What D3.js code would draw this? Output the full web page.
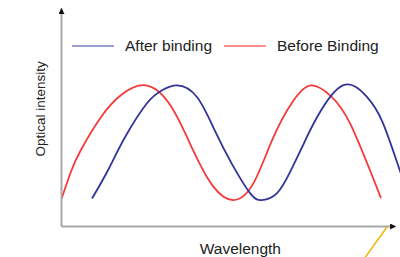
<!DOCTYPE html>
<html>
<head>
<meta charset="utf-8">
<script src="https://cdn.jsdelivr.net/npm/d3@7"></script>
<style>
  html, body { margin: 0; padding: 0; background: #fff; overflow: hidden; }
  svg { display: block; }
  text { font-family: "Liberation Sans", Arial, sans-serif; fill: #222; }
</style>
</head>
<body>
<div id="chart"></div>
<script>
// schematic spectrum, arbitrary units (0..100 on both axes)
const seriesNames = ["After binding", "Before Binding"];

const beforeX = [0.2, 3.0, 6.0, 12.0, 18.0, 25.4, 32.9, 39.5, 45.5, 51.5, 57.5, 63.5,
                 69.5, 74.9, 80.8, 86.8, 95.8];
const beforeY = [12.6, 25.0, 35.0, 50.0, 60.1, 64.5, 55.0, 34.9, 18.3, 11.9, 19.3, 40.4,
                 57.3, 64.5, 59.6, 46.3, 12.8];

const afterX = [9.3, 14.1, 19.2, 25.8, 30.2, 34.7, 40.7, 46.1, 51.2, 56.6, 60.2,
                64.7, 68.6, 72.5, 76.7, 84.4, 91.6, 96.4, 101.2, 103.6];
const afterY = [12.6, 25.7, 40.8, 56.4, 62.2, 64.5, 59.2, 43.6, 28.4, 15.1, 11.9,
                15.1, 24.8, 37.2, 50.0, 64.5, 59.2, 47.2, 26.6, 16.5];

const colors = {"After binding": "#33339a", "Before Binding": "#f53a3a"};
const legendColors = {"After binding": "#7c7cc2", "Before Binding": "#ff6a6a"};

const W = 400, H = 257;
const margin = {top: 8, right: 5, bottom: 31, left: 61};
const width = W - margin.left - margin.right;
const height = H - margin.top - margin.bottom;

const svg = d3.select("#chart").append("svg")
    .attr("width", W)
    .attr("height", H);

const defs = svg.append("defs");
defs.append("marker")
    .attr("id", "arrow")
    .attr("viewBox", "0 0 10 10")
    .attr("refX", 9).attr("refY", 5)
    .attr("markerWidth", 3).attr("markerHeight", 3)
    .attr("orient", "auto")
  .append("path")
    .attr("d", "M0,0L10,5L0,10Z")
    .attr("fill", "#111");

const g = svg.append("g")
    .attr("transform", "translate(" + margin.left + "," + margin.top + ")");

const xScale = d3.scaleLinear().domain([0, 100]).range([0, width]);
const yScale = d3.scaleLinear().domain([0, 100]).range([height, 0]);

// curves
const line = d3.line()
    .x(d => xScale(d[0]))
    .y(d => yScale(d[1]))
    .curve(d3.curveNatural);

const series = [
    {name: "Before Binding", pts: d3.zip(beforeX, beforeY)},
    {name: "After binding", pts: d3.zip(afterX, afterY)}
];

g.selectAll(".curve")
    .data(series)
    .enter()
    .append("path")
    .attr("class", "curve")
    .attr("d", d => line(d.pts))
    .attr("fill", "none")
    .attr("stroke", d => colors[d.name])
    .attr("stroke-width", 1.8);

// axes: plain lines, no ticks, arrow at the end
const xAxis = g.append("g")
    .attr("transform", "translate(0," + height + ")")
    .call(d3.axisBottom(xScale).ticks(0).tickSizeOuter(0));
const yAxis = g.append("g")
    .call(d3.axisLeft(yScale).ticks(0).tickSizeOuter(0));

[xAxis, yAxis].forEach(a => {
    a.select(".domain")
        .attr("stroke", "#a8a8a8")
        .attr("stroke-width", 2)
        .attr("marker-end", "url(#arrow)");
});

// legend
const legend = g.selectAll(".legend")
    .data(seriesNames)
    .enter()
    .append("g")
    .attr("class", "legend")
    .attr("transform", (d, i) => "translate(" + [11, 163][i] + ",38)");

legend.append("line")
    .attr("x1", 0).attr("x2", 42)
    .attr("y1", 0).attr("y2", 0)
    .attr("stroke", d => legendColors[d])
    .attr("stroke-width", 1.5);

legend.append("text")
    .attr("x", 53)
    .attr("y", 5)
    .style("font-size", "15.5px")
    .text(d => d);

// axis titles
svg.append("text")
    .attr("x", margin.left + xScale(53.7))
    .attr("y", 254)
    .attr("text-anchor", "middle")
    .style("font-size", "15.5px")
    .text("Wavelength");

svg.append("text")
    .attr("transform", "translate(45," + (margin.top + yScale(53.7)) + ") rotate(-90)")
    .attr("text-anchor", "middle")
    .style("font-size", "13.5px")
    .text("Optical intensity");

// stray orange pointer stroke at the corner
svg.append("line")
    .attr("x1", margin.left + xScale(100) - 8)
    .attr("y1", margin.top + height + 1)
    .attr("x2", margin.left + xScale(100) - 31)
    .attr("y2", H + 2)
    .attr("stroke", "#f5b400")
    .attr("stroke-width", 1.5);
</script>
</body>
</html>
